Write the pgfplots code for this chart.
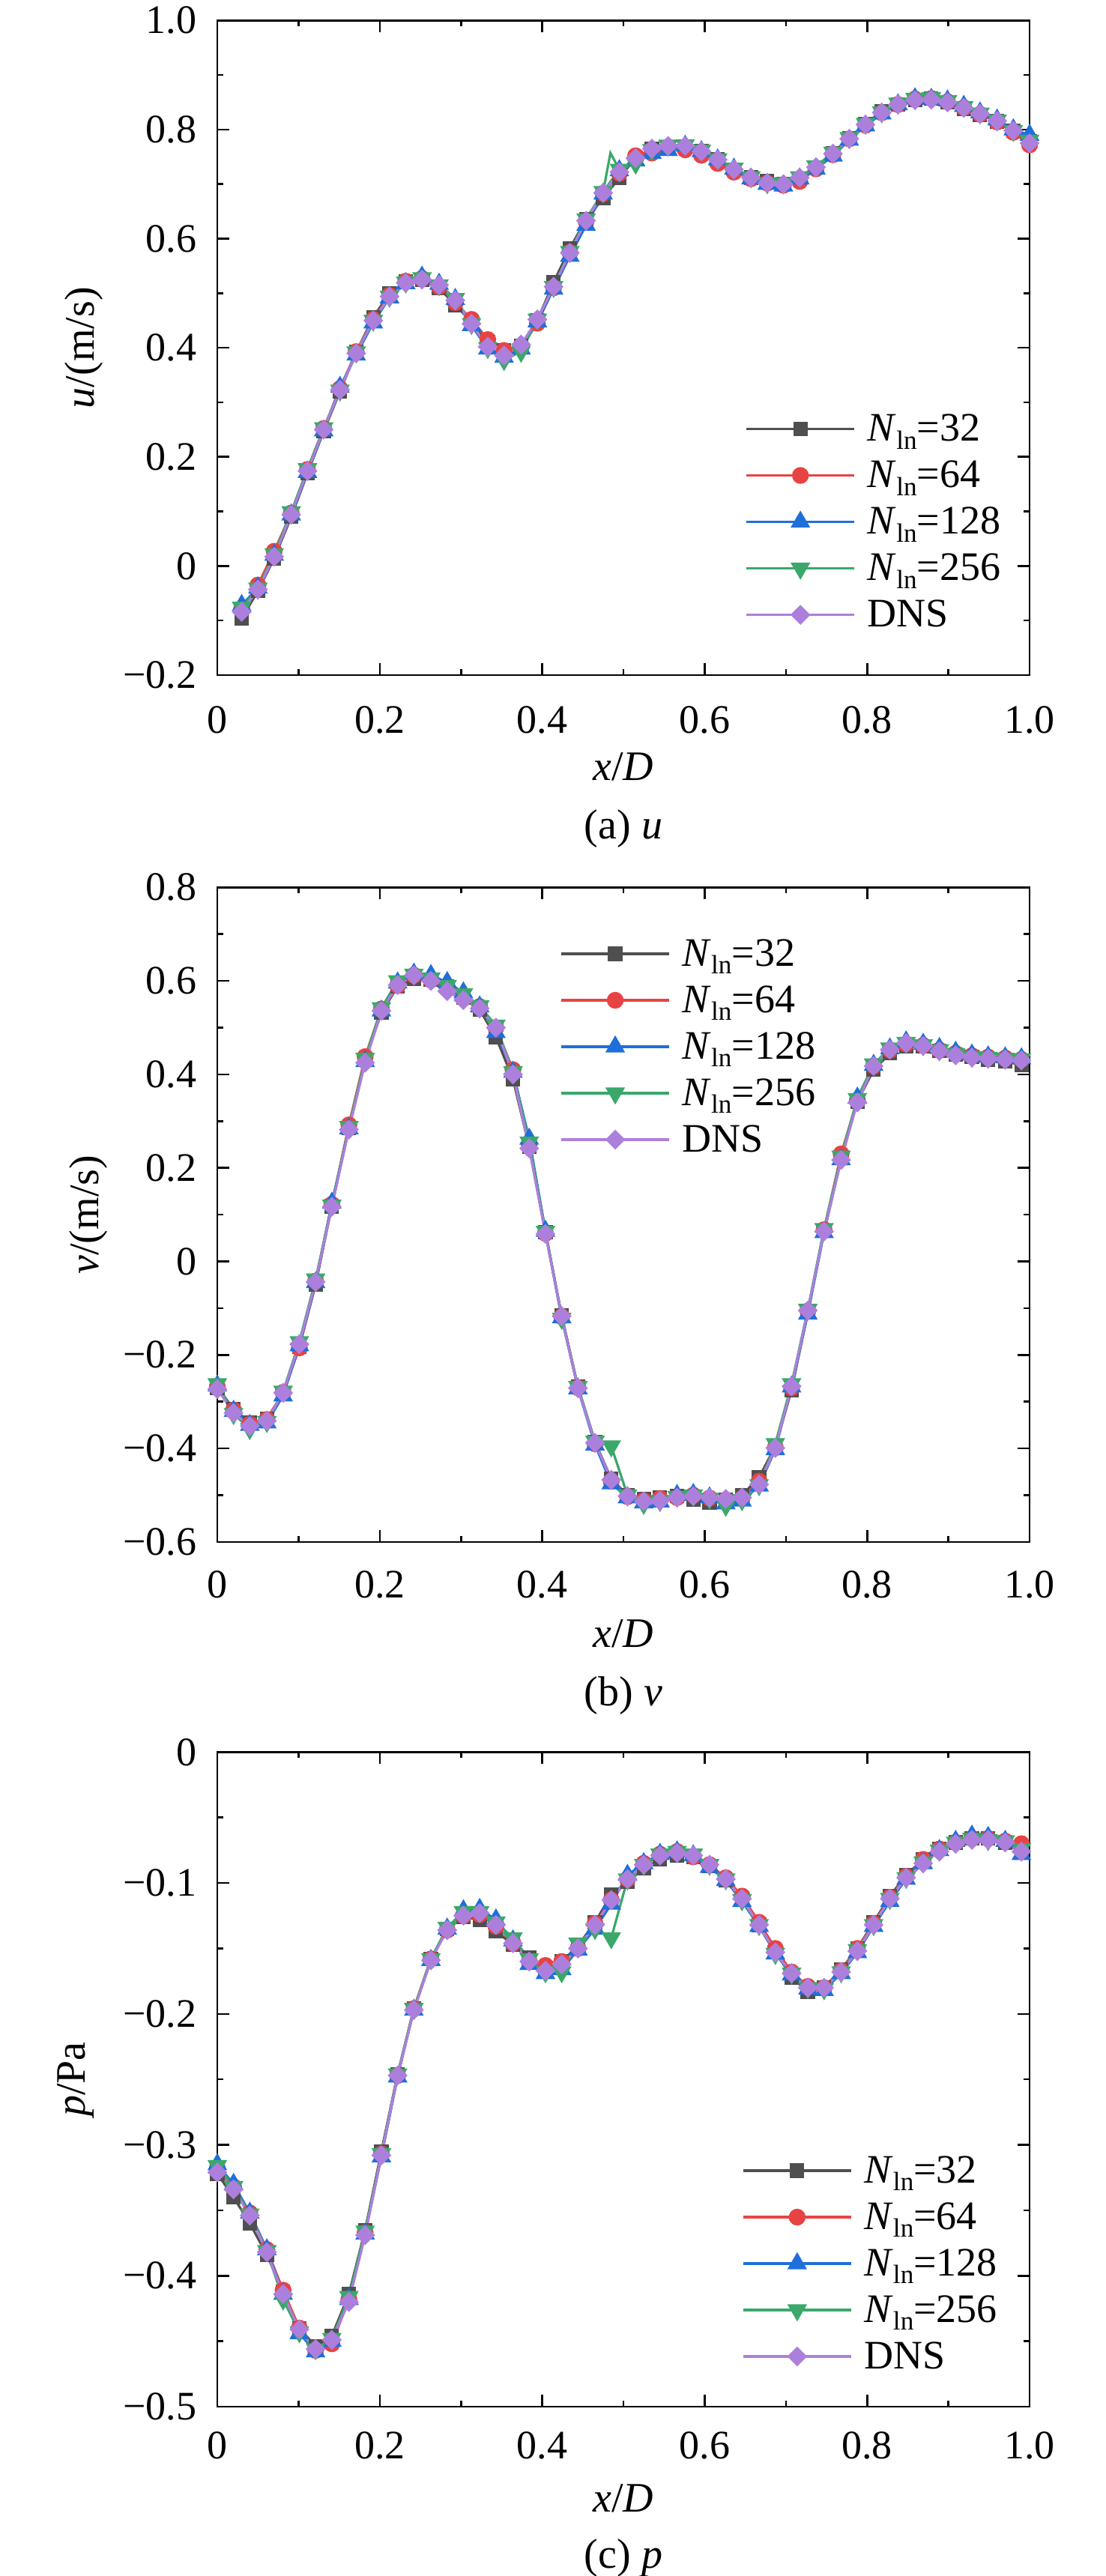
\documentclass[border=0pt]{standalone}
\usepackage{fontspec}
\setmainfont{Liberation Serif}
\usepackage{pgfplots}
\usepackage{pgfplotstable}
\pgfplotsset{compat=1.18}

\definecolor{cA}{HTML}{4F4F4F}
\definecolor{cB}{HTML}{E84343}
\definecolor{cC}{HTML}{1F6FDB}
\definecolor{cD}{HTML}{3BA86B}
\definecolor{cE}{HTML}{AD7FDC}

\newcommand{\Nln}[1]{\textit{N}\raisebox{-2.7pt}{\fontsize{8.8}{8.8}\selectfont ln}=#1}
\newcommand{\fs}{\fontsize{13.5}{16}\selectfont}
\newcommand{\fl}{\fontsize{14}{16.8}\selectfont}

\pgfplotstableread{
x n32 n64 n128 n256 dns
0.030 -0.096 -0.078 -0.072 -0.076 -0.084
0.050 -0.046 -0.035 -0.040 -0.041 -0.043
0.070 0.014 0.027 0.020 0.022 0.017
0.091 0.090 0.097 0.094 0.099 0.094
0.111 0.170 0.177 0.172 0.178 0.174
0.131 0.247 0.252 0.248 0.253 0.250
0.151 0.320 0.325 0.328 0.322 0.323
0.171 0.392 0.393 0.387 0.392 0.390
0.192 0.456 0.452 0.446 0.450 0.450
0.212 0.500 0.496 0.492 0.494 0.494
0.232 0.521 0.522 0.518 0.520 0.519
0.252 0.525 0.527 0.530 0.528 0.525
0.273 0.510 0.512 0.517 0.515 0.515
0.293 0.478 0.483 0.489 0.490 0.487
0.313 0.448 0.452 0.441 0.444 0.444
0.333 0.410 0.415 0.398 0.400 0.402
0.353 0.395 0.395 0.383 0.378 0.386
0.374 0.404 0.402 0.398 0.393 0.406
0.394 0.450 0.445 0.448 0.452 0.452
0.414 0.520 0.510 0.508 0.512 0.512
0.434 0.582 0.575 0.568 0.576 0.574
0.454 0.636 0.632 0.625 0.636 0.633
0.475 0.674 0.683 0.682 0.686 0.684
0.495 0.712 0.720 0.725 0.727 0.722
0.515 0.748 0.752 0.743 0.738 0.748
0.535 0.765 0.757 0.757 0.763 0.765
0.555 0.768 0.768 0.762 0.771 0.770
0.576 0.768 0.763 0.770 0.772 0.770
0.596 0.760 0.753 0.760 0.762 0.760
0.616 0.745 0.738 0.745 0.746 0.745
0.636 0.727 0.722 0.728 0.729 0.727
0.657 0.712 0.710 0.710 0.713 0.712
0.677 0.706 0.702 0.700 0.702 0.702
0.697 0.700 0.698 0.697 0.702 0.700
0.717 0.710 0.705 0.710 0.713 0.712
0.737 0.731 0.728 0.728 0.733 0.731
0.758 0.756 0.754 0.752 0.758 0.756
0.778 0.784 0.783 0.781 0.785 0.783
0.798 0.810 0.808 0.807 0.811 0.809
0.818 0.833 0.831 0.829 0.832 0.831
0.838 0.846 0.846 0.846 0.848 0.846
0.859 0.854 0.856 0.857 0.857 0.854
0.879 0.857 0.857 0.856 0.858 0.855
0.899 0.850 0.851 0.853 0.853 0.850
0.919 0.838 0.840 0.843 0.842 0.840
0.939 0.827 0.828 0.831 0.830 0.829
0.960 0.815 0.814 0.818 0.817 0.816
0.980 0.798 0.795 0.800 0.798 0.798
1.000 0.778 0.772 0.790 0.780 0.775
}\tabU

\pgfplotstableread{
x n32 n64 n128 n256 dns
0.000 -0.270 -0.268 -0.266 -0.262 -0.273
0.020 -0.315 -0.318 -0.320 -0.326 -0.324
0.040 -0.345 -0.348 -0.350 -0.358 -0.352
0.061 -0.336 -0.338 -0.345 -0.343 -0.341
0.081 -0.283 -0.280 -0.287 -0.278 -0.281
0.101 -0.182 -0.185 -0.180 -0.172 -0.177
0.121 -0.050 -0.042 -0.045 -0.038 -0.044
0.141 0.118 0.122 0.125 0.120 0.117
0.162 0.285 0.292 0.284 0.288 0.282
0.182 0.432 0.438 0.428 0.434 0.425
0.202 0.532 0.540 0.536 0.542 0.536
0.222 0.588 0.590 0.596 0.600 0.591
0.242 0.605 0.612 0.615 0.614 0.612
0.263 0.603 0.602 0.612 0.606 0.600
0.283 0.588 0.585 0.597 0.590 0.578
0.303 0.565 0.563 0.575 0.572 0.559
0.323 0.538 0.545 0.545 0.546 0.541
0.343 0.480 0.500 0.490 0.505 0.500
0.364 0.390 0.410 0.405 0.405 0.400
0.384 0.245 0.250 0.262 0.255 0.242
0.404 0.062 0.060 0.065 0.064 0.059
0.424 -0.115 -0.118 -0.120 -0.122 -0.117
0.444 -0.268 -0.270 -0.272 -0.268 -0.271
0.465 -0.386 -0.390 -0.392 -0.385 -0.388
0.485 -0.465 -0.470 -0.475 -0.395 -0.467
0.505 -0.500 -0.503 -0.505 -0.500 -0.502
0.525 -0.508 -0.512 -0.516 -0.518 -0.513
0.545 -0.505 -0.507 -0.514 -0.512 -0.512
0.566 -0.502 -0.505 -0.500 -0.503 -0.505
0.586 -0.510 -0.500 -0.498 -0.500 -0.502
0.606 -0.515 -0.506 -0.505 -0.507 -0.505
0.626 -0.510 -0.510 -0.518 -0.522 -0.508
0.646 -0.500 -0.507 -0.512 -0.510 -0.505
0.667 -0.462 -0.470 -0.480 -0.478 -0.477
0.687 -0.395 -0.398 -0.402 -0.390 -0.399
0.707 -0.275 -0.270 -0.268 -0.262 -0.267
0.727 -0.108 -0.106 -0.112 -0.103 -0.105
0.747 0.066 0.068 0.062 0.070 0.064
0.768 0.222 0.230 0.218 0.225 0.217
0.788 0.342 0.345 0.350 0.348 0.340
0.808 0.410 0.418 0.420 0.422 0.418
0.828 0.445 0.452 0.455 0.456 0.453
0.848 0.460 0.465 0.470 0.468 0.467
0.869 0.460 0.462 0.465 0.463 0.461
0.889 0.450 0.452 0.456 0.452 0.450
0.909 0.442 0.445 0.448 0.444 0.441
0.929 0.437 0.440 0.442 0.438 0.436
0.949 0.432 0.437 0.438 0.436 0.434
0.970 0.428 0.435 0.436 0.434 0.432
0.990 0.420 0.432 0.434 0.433 0.430
}\tabV

\pgfplotstableread{
x n32 n64 n128 n256 dns
0.000 -0.322 -0.318 -0.315 -0.316 -0.321
0.020 -0.340 -0.332 -0.330 -0.332 -0.334
0.040 -0.360 -0.352 -0.352 -0.353 -0.354
0.061 -0.384 -0.380 -0.380 -0.381 -0.382
0.081 -0.412 -0.411 -0.414 -0.418 -0.414
0.101 -0.440 -0.440 -0.444 -0.443 -0.441
0.121 -0.454 -0.457 -0.458 -0.456 -0.456
0.141 -0.446 -0.452 -0.450 -0.448 -0.449
0.162 -0.414 -0.418 -0.418 -0.416 -0.420
0.182 -0.365 -0.367 -0.368 -0.366 -0.369
0.202 -0.305 -0.307 -0.309 -0.307 -0.308
0.222 -0.246 -0.247 -0.248 -0.246 -0.247
0.242 -0.196 -0.196 -0.197 -0.196 -0.197
0.263 -0.158 -0.158 -0.159 -0.158 -0.159
0.283 -0.135 -0.136 -0.135 -0.134 -0.136
0.303 -0.126 -0.125 -0.121 -0.122 -0.125
0.323 -0.128 -0.124 -0.120 -0.122 -0.123
0.343 -0.137 -0.133 -0.128 -0.130 -0.132
0.364 -0.147 -0.146 -0.144 -0.142 -0.146
0.384 -0.157 -0.160 -0.162 -0.158 -0.160
0.404 -0.165 -0.163 -0.169 -0.168 -0.167
0.424 -0.160 -0.160 -0.166 -0.168 -0.162
0.444 -0.148 -0.150 -0.151 -0.146 -0.150
0.465 -0.130 -0.131 -0.135 -0.135 -0.132
0.485 -0.109 -0.113 -0.116 -0.142 -0.113
0.505 -0.099 -0.097 -0.094 -0.097 -0.097
0.525 -0.089 -0.085 -0.085 -0.086 -0.086
0.545 -0.082 -0.078 -0.078 -0.078 -0.079
0.566 -0.079 -0.076 -0.076 -0.076 -0.077
0.586 -0.080 -0.080 -0.079 -0.078 -0.079
0.606 -0.087 -0.086 -0.088 -0.086 -0.086
0.626 -0.098 -0.096 -0.098 -0.097 -0.097
0.646 -0.112 -0.110 -0.114 -0.113 -0.112
0.667 -0.132 -0.130 -0.133 -0.132 -0.132
0.687 -0.152 -0.150 -0.154 -0.154 -0.153
0.707 -0.172 -0.168 -0.170 -0.169 -0.169
0.727 -0.183 -0.179 -0.181 -0.180 -0.180
0.747 -0.180 -0.180 -0.182 -0.181 -0.180
0.768 -0.166 -0.167 -0.169 -0.168 -0.168
0.788 -0.150 -0.150 -0.153 -0.151 -0.152
0.808 -0.130 -0.131 -0.133 -0.132 -0.132
0.828 -0.110 -0.111 -0.114 -0.112 -0.112
0.848 -0.094 -0.095 -0.097 -0.096 -0.096
0.869 -0.082 -0.082 -0.085 -0.084 -0.085
0.889 -0.074 -0.074 -0.075 -0.075 -0.076
0.909 -0.069 -0.069 -0.068 -0.069 -0.070
0.929 -0.066 -0.066 -0.064 -0.066 -0.067
0.949 -0.066 -0.066 -0.065 -0.067 -0.067
0.970 -0.069 -0.068 -0.068 -0.068 -0.069
0.990 -0.075 -0.070 -0.078 -0.074 -0.076
}\tabP

\pgfplotsset{
  panel/.style={
    scale only axis, width=271pt, height=218.4pt,
    xmin=0, xmax=1,
    xtick={0,0.2,0.4,0.6,0.8,1}, xticklabels={0,0.2,0.4,0.6,0.8,1.0},
    minor x tick num=1, minor y tick num=1,
    tick align=inside,
    major tick length=4pt, minor tick length=2pt,
    axis line style={line width=0.65pt},
    every tick/.append style={line width=0.65pt, black},
    tick label style={font=\fs, inner sep=0pt},
    yticklabel style={anchor=east, xshift=-6.75pt},
    label style={font=\fl},
    xlabel={\textit{x}/\textit{D}},
    xlabel style={at={(axis description cs:0.5,0)}, anchor=center, yshift=-30.5pt},
    legend cell align=left,
    legend style={draw=none, fill=none, inner sep=0pt, outer sep=0pt,
      row sep=3.5pt, column sep=4pt, font=\fs, anchor=north west,
      nodes={inner sep=0pt, text height=10pt, text depth=2pt}},
    legend image code/.code={\draw[mark repeat=2,mark phase=2,##1] plot coordinates {(0pt,0pt)(18pt,0pt)(36pt,0pt)};},
  },
  s32/.style={color=cA, line width=0.8pt, mark=square*, mark size=2pt, mark options={solid}},
  s64/.style={color=cB, line width=0.8pt, mark=*, mark size=2.4pt, mark options={solid}},
  s128/.style={color=cC, line width=0.8pt, mark=triangle*, mark size=3pt, mark options={solid}},
  s256/.style={color=cD, line width=0.8pt, mark=triangle*, mark size=3pt, mark options={solid, rotate=180}},
  sdns/.style={color=cE, line width=0.8pt, mark=square*, mark size=1.95pt, mark options={solid, rotate=45}},
}

\begin{document}
\begin{tikzpicture}
\path[use as bounding box] (0,0) rectangle (369pt,859.5pt);

% (a)
\begin{axis}[panel, at={(72.5pt,634.25pt)}, anchor=south west,
  xticklabel style={anchor=north, yshift=-10.25pt},
  ymin=-0.2, ymax=1.0,
  ytick={-0.2,0,0.2,0.4,0.6,0.8,1.0},
  yticklabels={−0.2,0,0.2,0.4,0.6,0.8,1.0},
  ylabel={\textit{u}/(m/s)},
  ylabel style={at={(axis description cs:-0.164,0.5)}, anchor=center},
  legend style={at={(0.650,0.4034)}}]
\addplot[s32] table[x=x,y=n32]{\tabU}; \addlegendentry{\Nln{32}}
\addplot[s64] table[x=x,y=n64]{\tabU}; \addlegendentry{\Nln{64}}
\addplot[s128] table[x=x,y=n128]{\tabU}; \addlegendentry{\Nln{128}}
\addplot[s256] table[x=x,y=n256]{\tabU}; \addlegendentry{\Nln{256}}
\addplot[color=cD, line width=0.8pt, mark=none, forget plot] coordinates {(0.475,0.686) (0.484,0.757) (0.495,0.727)};
\addplot[sdns] table[x=x,y=dns]{\tabU}; \addlegendentry{DNS}
\end{axis}
\node[font=\fl, anchor=center] at (208pt,583pt) {(a) \textit{u}};

% (b)
\begin{axis}[panel, at={(72.5pt,345pt)}, anchor=south west,
  xticklabel style={anchor=north, yshift=-9.5pt},
  ymin=-0.6, ymax=0.8,
  ytick={-0.6,-0.4,-0.2,0,0.2,0.4,0.6,0.8},
  yticklabels={−0.6,−0.4,−0.2,0,0.2,0.4,0.6,0.8},
  ylabel={\textit{v}/(m/s)},
  ylabel style={at={(axis description cs:-0.159,0.5)}, anchor=center},
  legend style={at={(0.422,0.926)}}]
\addplot[s32] table[x=x,y=n32]{\tabV}; \addlegendentry{\Nln{32}}
\addplot[s64] table[x=x,y=n64]{\tabV}; \addlegendentry{\Nln{64}}
\addplot[s128] table[x=x,y=n128]{\tabV}; \addlegendentry{\Nln{128}}
\addplot[s256] table[x=x,y=n256]{\tabV}; \addlegendentry{\Nln{256}}
\addplot[sdns] table[x=x,y=dns]{\tabV}; \addlegendentry{DNS}
\end{axis}
\node[font=\fl, anchor=center] at (208pt,293.75pt) {(b) \textit{v}};

% (c)
\begin{axis}[panel, at={(72.5pt,56.5pt)}, anchor=south west,
  xticklabel style={anchor=north, yshift=-8.25pt},
  ymin=-0.5, ymax=0,
  ytick={-0.5,-0.4,-0.3,-0.2,-0.1,0},
  yticklabels={−0.5,−0.4,−0.3,−0.2,−0.1,0},
  ylabel={\textit{p}/Pa},
  ylabel style={at={(axis description cs:-0.174,0.5)}, anchor=center},
  legend style={at={(0.646,0.388)}}]
\addplot[s32] table[x=x,y=n32]{\tabP}; \addlegendentry{\Nln{32}}
\addplot[s64] table[x=x,y=n64]{\tabP}; \addlegendentry{\Nln{64}}
\addplot[s128] table[x=x,y=n128]{\tabP}; \addlegendentry{\Nln{128}}
\addplot[s256] table[x=x,y=n256]{\tabP}; \addlegendentry{\Nln{256}}
\addplot[sdns] table[x=x,y=dns]{\tabP}; \addlegendentry{DNS}
\end{axis}
\node[font=\fl, anchor=center] at (208pt,6pt) {(c) \textit{p}};
\end{tikzpicture}
\end{document}
